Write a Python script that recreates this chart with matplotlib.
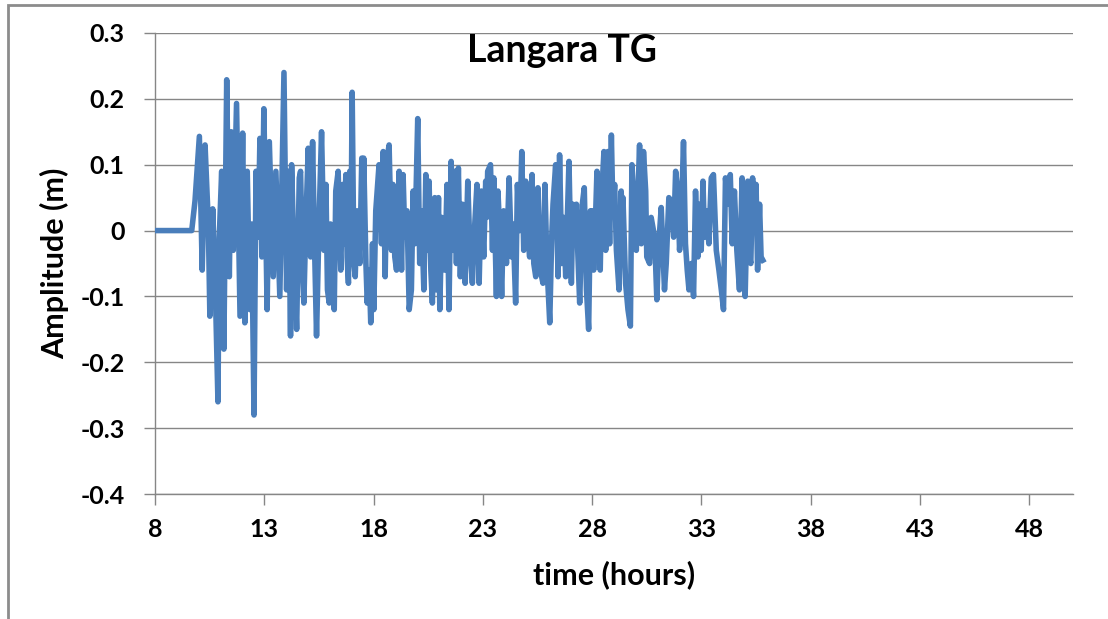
import matplotlib
matplotlib.use("Agg")
import matplotlib.pyplot as plt
from matplotlib.patches import Rectangle

plt.rcParams['font.family'] = ['Lato', 'DejaVu Sans']
plt.rcParams['axes.unicode_minus'] = False

# tide gauge record (time in hours, amplitude in m)
time_h = [
    8.00, 9.68, 9.83, 10.03, 10.16, 10.29, 10.44, 10.51, 10.64, 10.76,
    10.88, 10.94, 11.05, 11.15, 11.28, 11.40, 11.49, 11.58, 11.73, 11.89,
    12.01, 12.11, 12.22, 12.34, 12.42, 12.53, 12.62, 12.72, 12.80, 12.89,
    12.98, 13.13, 13.23, 13.41, 13.53, 13.71, 13.90, 14.02, 14.11, 14.20,
    14.25, 14.35, 14.48, 14.60, 14.66, 14.75, 14.81, 14.90, 15.01, 15.12,
    15.21, 15.31, 15.39, 15.51, 15.62, 15.73, 15.82, 15.89, 15.97, 16.03,
    16.12, 16.20, 16.27, 16.38, 16.46, 16.50, 16.58, 16.65, 16.73, 16.79,
    16.85, 16.91, 16.96, 17.02, 17.10, 17.16, 17.25, 17.37, 17.46, 17.51,
    17.55, 17.65, 17.71, 17.80, 17.87, 17.95, 18.01, 18.10, 18.25, 18.36,
    18.44, 18.53, 18.62, 18.71, 18.82, 18.89, 18.97, 19.05, 19.17, 19.28,
    19.35, 19.43, 19.53, 19.63, 19.73, 19.81, 19.89, 20.02, 20.11, 20.19,
    20.30, 20.39, 20.47, 20.54, 20.62, 20.69, 20.80, 20.88, 20.97, 21.03,
    21.12, 21.26, 21.36, 21.45, 21.55, 21.64, 21.71, 21.79, 21.88, 21.97,
    22.07, 22.19, 22.31, 22.40, 22.52, 22.63, 22.73, 22.83, 22.93, 23.04,
    23.13, 23.18, 23.22, 23.35, 23.44, 23.50, 23.62, 23.69, 23.77, 23.86,
    23.95, 24.08, 24.20, 24.31, 24.38, 24.50, 24.58, 24.69, 24.78, 24.87,
    24.96, 25.07, 25.14, 25.25, 25.33, 25.42, 25.52, 25.63, 25.75, 25.84,
    25.93, 26.06, 26.15, 26.21, 26.33, 26.44, 26.51, 26.61, 26.70, 26.79,
    26.94, 27.05, 27.12, 27.20, 27.28, 27.34, 27.43, 27.55, 27.64, 27.74,
    27.84, 27.92, 27.97, 28.01, 28.07, 28.16, 28.22, 28.31, 28.37, 28.43,
    28.54, 28.62, 28.72, 28.80, 28.88, 28.95, 29.03, 29.11, 29.23, 29.33,
    29.37, 29.41, 29.53, 29.64, 29.75, 29.82, 29.90, 30.02, 30.10, 30.17,
    30.25, 30.35, 30.45, 30.50, 30.63, 30.70, 30.86, 30.96, 31.05, 31.16,
    31.24, 31.31, 31.39, 31.51, 31.62, 31.73, 31.82, 31.92, 32.00, 32.08,
    32.18, 32.27, 32.35, 32.43, 32.54, 32.64, 32.73, 32.84, 32.91, 32.99,
    33.07, 33.14, 33.22, 33.34, 33.45, 33.55, 33.68, 33.80, 33.91, 34.01,
    34.10, 34.21, 34.32, 34.41, 34.51, 34.62, 34.74, 34.86, 34.94, 35.00,
    35.12, 35.20, 35.26, 35.34, 35.43, 35.50, 35.57, 35.66, 35.73, 35.81,
]
amp_m = [
    0.000, 0.000, 0.045, 0.143, -0.060, 0.130, 0.010, -0.130, 0.033, -0.090,
    -0.260, -0.010, 0.090, -0.180, 0.229, -0.070, 0.150, -0.030, 0.193, -0.130,
    0.148, -0.140, 0.090, -0.120, 0.010, -0.280, 0.090, -0.010, 0.140, -0.040,
    0.185, -0.120, 0.135, -0.070, 0.090, -0.100, 0.240, -0.090, 0.090, -0.160,
    0.100, -0.030, -0.150, 0.080, 0.090, -0.060, -0.110, 0.010, 0.125, -0.040,
    0.135, -0.040, -0.160, 0.020, 0.150, -0.030, 0.070, -0.090, -0.110, 0.010,
    -0.050, -0.120, 0.060, 0.090, -0.020, -0.060, 0.070, -0.020, 0.085, -0.040,
    -0.080, 0.090, -0.040, 0.210, -0.050, -0.070, 0.030, -0.050, 0.110, 0.000,
    0.110, -0.050, -0.110, -0.060, -0.140, -0.020, -0.120, 0.030, 0.100, -0.020,
    0.120, -0.070, 0.110, 0.130, -0.030, 0.070, -0.040, -0.060, 0.090, -0.060,
    0.085, -0.010, 0.030, -0.120, -0.090, 0.060, -0.020, 0.170, -0.050, 0.030,
    -0.090, 0.085, -0.030, 0.075, -0.060, -0.110, 0.050, -0.090, 0.050, -0.120,
    0.020, -0.060, 0.070, -0.120, 0.105, -0.030, 0.090, -0.050, 0.095, -0.070,
    0.040, -0.080, 0.075, -0.020, -0.080, 0.010, 0.070, -0.080, 0.060, -0.040,
    0.075, 0.020, 0.090, 0.100, -0.030, 0.080, -0.100, 0.060, 0.000, -0.100,
    0.030, -0.050, 0.080, -0.040, 0.010, -0.110, 0.070, 0.000, 0.120, -0.030,
    0.075, -0.010, -0.040, 0.085, -0.050, -0.070, 0.065, -0.060, -0.080, 0.070,
    -0.050, -0.140, -0.010, 0.040, 0.100, -0.070, 0.115, -0.050, 0.020, -0.070,
    0.105, -0.080, 0.040, -0.020, 0.040, -0.030, -0.110, 0.040, 0.065, -0.090,
    -0.150, 0.030, -0.030, 0.030, -0.060, 0.025, 0.090, -0.020, -0.060, 0.050,
    0.120, -0.030, 0.120, -0.020, 0.145, 0.030, 0.070, -0.030, -0.090, 0.060,
    0.000, 0.050, -0.080, -0.120, -0.145, 0.100, 0.050, -0.030, 0.060, 0.130,
    -0.020, 0.120, 0.060, -0.040, -0.050, 0.020, -0.010, -0.105, -0.020, 0.035,
    -0.030, -0.090, -0.050, 0.050, 0.045, -0.010, 0.090, 0.060, -0.030, 0.020,
    0.135, -0.020, -0.060, -0.090, -0.050, -0.100, 0.060, -0.040, 0.040, -0.030,
    0.075, -0.010, 0.030, -0.020, 0.080, 0.085, -0.030, -0.060, -0.090, -0.120,
    0.080, 0.040, 0.085, -0.020, 0.060, -0.030, -0.090, 0.080, -0.050, -0.100,
    0.075, -0.040, -0.050, 0.080, 0.030, 0.070, -0.060, 0.040, -0.040, -0.045,
]

x_ticks = [8, 13, 18, 23, 28, 33, 38, 43, 48]
y_ticks = [-0.4, -0.3, -0.2, -0.1, 0, 0.1, 0.2, 0.3]
y_tick_labels = ['-0.4', '-0.3', '-0.2', '-0.1', '0', '0.1', '0.2', '0.3']

grey = '#868686'

fig = plt.figure(figsize=(11.08, 6.19), dpi=100)
ax = fig.add_axes([0.1399, 0.2019, 0.8285, 0.7448])

# outer chart frame (only left and top edges are inside the picture)
frame_top = 1 - 5 / 619
fig.patches.append(Rectangle((8 / 1108, -0.1), 1.2, frame_top + 0.1,
                             transform=fig.transFigure, fill=False,
                             edgecolor='#8c8c8c', linewidth=2))

ax.plot(time_h, amp_m, color='#4a7ebb', linewidth=4.0, solid_joinstyle='round', zorder=3)

ax.set_xlim(8, 50)
ax.set_ylim(-0.4, 0.3)
ax.set_xticks(x_ticks)
ax.set_yticks(y_ticks)
ax.set_yticklabels(y_tick_labels)

ax.grid(axis='y', color=grey, linewidth=1)
ax.set_axisbelow(True)
for side in ['top', 'right']:
    ax.spines[side].set_visible(False)
for side in ['left', 'bottom']:
    ax.spines[side].set_color(grey)
    ax.spines[side].set_linewidth(1)

ax.tick_params(axis='both', direction='out', length=8, width=1, color=grey,
               labelsize=18)
ax.tick_params(axis='x', pad=9)
ax.tick_params(axis='y', pad=14)
for lbl in ax.get_xticklabels() + ax.get_yticklabels():
    lbl.set_fontweight('bold')

ax.set_xlabel('time (hours)', fontsize=22, fontweight='bold', labelpad=14)
ax.set_ylabel('Amplitude (m)', fontsize=22, fontweight='bold', labelpad=8)
ax.text(0.443, 0.997, 'Langara TG', transform=ax.transAxes, ha='center', va='top',
        fontsize=27, fontweight='bold')

fig.savefig('out.png', dpi=100)
